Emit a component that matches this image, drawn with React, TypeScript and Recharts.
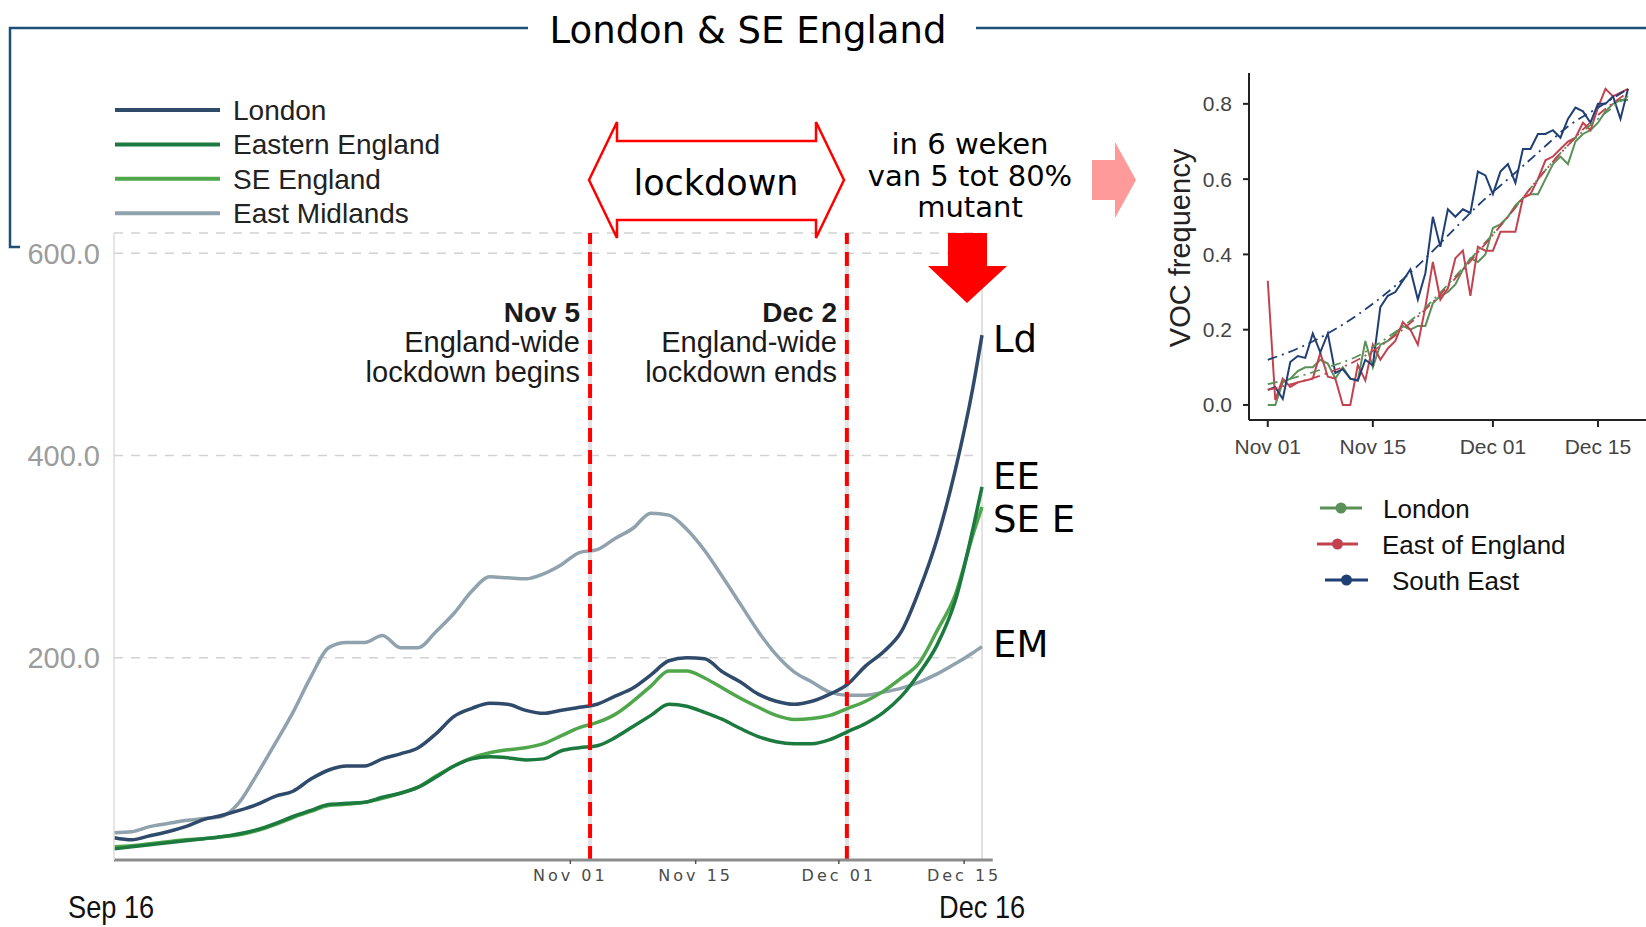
import { LineChart, Line, XAxis, YAxis, CartesianGrid, ReferenceLine } from 'recharts';

// left chart: cases per 100k, days counted from Nov 01
const caseDays = [
  -51, -49, -47, -45, -43, -41, -39, -37, -35, -33, -31, -29, -27, -25, -23, -21, -19,
  -17, -15, -13, -11, -9, -7, -5, -3, -1, 1, 3, 5, 7, 9, 11, 13, 15, 17, 19, 21, 23, 25,
  27, 29, 31, 33, 35, 37, 39, 41, 43, 45, 46,
];
const londonCases = [
  22, 20, 24, 28, 33, 40, 44, 49, 55, 63, 68, 80, 89, 93, 93, 100, 105, 111, 125, 142,
  150, 155, 154, 148, 145, 148, 151, 154, 162, 170, 183, 197, 200, 199, 186, 176, 164,
  157, 154, 157, 164, 174, 192, 206, 226, 267, 318, 385, 468, 519,
];
const easternCases = [
  11, 13, 15, 17, 19, 21, 23, 26, 30, 36, 43, 49, 55, 56, 57, 62, 66, 72, 82, 93, 100,
  102, 101, 99, 100, 108, 111, 113, 121, 132, 143, 154, 152, 146, 139, 130, 122, 117,
  115, 115, 119, 127, 135, 146, 162, 185, 213, 256, 328, 369,
];
const seCases = [
  13, 14, 16, 18, 20, 21, 23, 25, 29, 35, 42, 48, 54, 55, 57, 61, 66, 72, 83, 93, 101,
  106, 109, 111, 115, 123, 131, 136, 144, 157, 172, 187, 187, 180, 170, 160, 151, 143,
  139, 140, 143, 150, 157, 167, 180, 195, 227, 262, 322, 349,
];
const midlandsCases = [
  27, 28, 33, 36, 39, 41, 43, 57, 85, 115, 146, 181, 210, 215, 215, 222, 210, 210, 226,
  244, 266, 280, 279, 278, 283, 292, 304, 307, 318, 328, 343, 341, 327, 306, 280, 253,
  226, 203, 186, 176, 166, 163, 163, 166, 170, 176, 184, 194, 205, 211,
];
const caseTickDays = [0, 14, 30, 44];
const caseTickLabels = ['Nov 01', 'Nov 15', 'Dec 01', 'Dec 15'];
const caseYTicks = [200, 400, 600];

// right chart: VOC frequency per day from Nov 01
const vocDays = [
  0, 1, 2, 3, 4, 5, 6, 7, 8, 9, 10, 11, 12, 13, 14, 15, 16, 17, 18, 19, 20, 21, 22, 23,
  24, 25, 26, 27, 28, 29, 30, 31, 32, 33, 34, 35, 36, 37, 38, 39, 40, 41, 42, 43, 44, 45,
  46, 47, 48,
];
const vocLondon = [
  0, 0, 0.06, 0.07, 0.09, 0.1, 0.1, 0.12, 0.11, 0.07, 0.1, 0.07, 0.065, 0.17, 0.1, 0.16,
  0.17, 0.19, 0.21, 0.2, 0.21, 0.21, 0.27, 0.29, 0.3, 0.32, 0.36, 0.39, 0.38, 0.4, 0.47,
  0.48, 0.5, 0.53, 0.55, 0.56, 0.56, 0.6, 0.64, 0.66, 0.64, 0.7, 0.72, 0.73, 0.75, 0.78,
  0.8, 0.81, 0.81,
];
const vocEast = [
  0.33, 0.013, 0.07, 0.048, 0.06, 0.065, 0.07, 0.138, 0.075, 0.07, 0, 0, 0.106, 0.065,
  0.16, 0.12, 0.15, 0.17, 0.22, 0.2, 0.16, 0.26, 0.38, 0.28, 0.31, 0.39, 0.41, 0.29, 0.42,
  0.41, 0.41, 0.46, 0.46, 0.46, 0.55, 0.56, 0.6, 0.65, 0.66, 0.68, 0.7, 0.71, 0.75, 0.73,
  0.79, 0.84, 0.82, 0.83, 0.84,
];
const vocSouthEast = [
  0.04, 0.047, 0.016, 0.114, 0.13, 0.125, 0.19, 0.14, 0.19, 0.085, 0.095, 0.07, 0.065,
  0.12, 0.105, 0.26, 0.29, 0.3, 0.33, 0.36, 0.28, 0.35, 0.5, 0.42, 0.52, 0.5, 0.52, 0.51,
  0.62, 0.61, 0.56, 0.62, 0.64, 0.59, 0.68, 0.68, 0.72, 0.72, 0.73, 0.71, 0.76, 0.79, 0.78,
  0.75, 0.8, 0.8, 0.82, 0.76, 0.84,
];
const fitDays = [0, 4, 8, 12, 16, 20, 24, 28, 32, 36, 40, 44, 48];
const fitLondon = [0.055, 0.075, 0.1, 0.13, 0.18, 0.24, 0.32, 0.41, 0.5, 0.6, 0.69, 0.76, 0.82];
const fitEast = [0.04, 0.06, 0.085, 0.12, 0.17, 0.235, 0.315, 0.405, 0.5, 0.6, 0.69, 0.77, 0.83];
const fitSouthEast = [0.12, 0.15, 0.19, 0.24, 0.3, 0.37, 0.45, 0.53, 0.6, 0.67, 0.74, 0.79, 0.84];
const vocYTicks = [0, 0.2, 0.4, 0.6, 0.8];

const caseData = caseDays.map((day, i) => ({
  day,
  london: londonCases[i],
  eastern: easternCases[i],
  se: seCases[i],
  midlands: midlandsCases[i],
}));

const vocData = vocDays.map((day, i) => {
  const f = fitDays.indexOf(day);
  return {
    day,
    london: vocLondon[i],
    east: vocEast[i],
    southEast: vocSouthEast[i],
    fitLondon: f >= 0 ? fitLondon[f] : null,
    fitEast: f >= 0 ? fitEast[f] : null,
    fitSouthEast: f >= 0 ? fitSouthEast[f] : null,
  };
});

const caseSeries = [
  { key: 'midlands', name: 'East Midlands', color: '#8fa2ad', tag: 'EM', tagY: 657 },
  { key: 'se', name: 'SE England', color: '#4fa64b', tag: 'SE E', tagY: 532 },
  { key: 'eastern', name: 'Eastern England', color: '#1c7a3f', tag: 'EE', tagY: 489 },
  { key: 'london', name: 'London', color: '#2f4a6a', tag: 'Ld', tagY: 352 },
];
const legendOrder = ['london', 'eastern', 'se', 'midlands'];

const vocSeries = [
  { key: 'london', fit: 'fitLondon', name: 'London', color: '#5b9058' },
  { key: 'east', fit: 'fitEast', name: 'East of England', color: '#c2434f' },
  { key: 'southEast', fit: 'fitSouthEast', name: 'South East', color: '#1f3f75' },
];

const SANS = '"Liberation Sans", Arial, sans-serif';
const DEJAVU = '"DejaVu Sans", Verdana, sans-serif';
const FRAME = '#1d4f78';

function CasesChart() {
  return (
    <LineChart
      width={1040}
      height={927}
      data={caseData}
      margin={{ top: 233, right: 58, bottom: 27, left: 0 }}
    >
      <CartesianGrid vertical={false} stroke="#d2d2d2" strokeDasharray="9 8" strokeWidth={1.5} />
      <XAxis
        dataKey="day"
        type="number"
        domain={[-51, 46]}
        ticks={caseTickDays}
        interval={0}
        tickFormatter={(v) => caseTickLabels[caseTickDays.indexOf(v)]}
        axisLine={{ stroke: '#8c8c8c', strokeWidth: 3 }}
        tickLine={{ stroke: '#555', strokeWidth: 1.5 }}
        tickSize={4}
        tickMargin={6}
        height={40}
        tick={{ fill: '#4a4a4a', fontSize: 16, fontFamily: DEJAVU, letterSpacing: 3 }}
      />
      <YAxis
        domain={[0, 620]}
        ticks={caseYTicks}
        width={114}
        tickFormatter={(v) => Number(v).toFixed(1)}
        axisLine={{ stroke: '#dcdcdc', strokeWidth: 1.5 }}
        tickLine={false}
        tickSize={0}
        tickMargin={14}
        tick={{ fill: '#9c9c9c', fontSize: 29, fontFamily: SANS }}
      />
      <ReferenceLine x={2.2} stroke="#e2e2e2" strokeWidth={4} />
      <ReferenceLine x={30.9} stroke="#e2e2e2" strokeWidth={4} />
      <ReferenceLine x={46} stroke="#e2e2e2" strokeWidth={2} />
      <ReferenceLine
        segment={[{ x: 46, y: 0 }, { x: 47.2, y: 0 }]}
        ifOverflow="visible"
        stroke="#8c8c8c"
        strokeWidth={3}
      />
      {caseSeries.map((s) => (
        <Line
          key={s.key}
          dataKey={s.key}
          type="monotone"
          stroke={s.color}
          strokeWidth={3.5}
          dot={false}
          isAnimationActive={false}
        />
      ))}
      <ReferenceLine x={2.2} stroke="#ff0000" strokeWidth={4} strokeDasharray="14 8" />
      <ReferenceLine x={30.9} stroke="#ff0000" strokeWidth={4} strokeDasharray="14 8" />
    </LineChart>
  );
}

function VocChart() {
  return (
    <LineChart
      width={546}
      height={460}
      data={vocData}
      margin={{ top: 33, right: 0, bottom: 20, left: 0 }}
    >
      <XAxis
        dataKey="day"
        type="number"
        domain={[-2.5, 50.4]}
        ticks={caseTickDays}
        interval={0}
        tickFormatter={(v) => caseTickLabels[caseTickDays.indexOf(v)]}
        axisLine={{ stroke: '#222', strokeWidth: 2 }}
        tickLine={{ stroke: '#222', strokeWidth: 2 }}
        tickSize={7}
        tickMargin={12}
        height={60}
        tick={{ fill: '#444', fontSize: 21, fontFamily: SANS }}
      />
      <YAxis
        domain={[-0.04, 0.882]}
        ticks={vocYTicks}
        width={149}
        tickFormatter={(v) => Number(v).toFixed(1)}
        axisLine={{ stroke: '#222', strokeWidth: 2 }}
        tickLine={{ stroke: '#222', strokeWidth: 2 }}
        tickSize={6}
        tickMargin={11}
        tick={{ fill: '#444', fontSize: 21, fontFamily: SANS }}
      />
      {vocSeries.map((s) => (
        <Line
          key={s.key}
          dataKey={s.key}
          type="linear"
          stroke={s.color}
          strokeWidth={2}
          dot={false}
          isAnimationActive={false}
        />
      ))}
      {vocSeries.map((s) => (
        <Line
          key={s.fit}
          dataKey={s.fit}
          type="monotone"
          connectNulls
          stroke={s.color}
          strokeWidth={1.8}
          strokeDasharray="10 5 2 5"
          dot={false}
          isAnimationActive={false}
        />
      ))}
    </LineChart>
  );
}

function Overlay() {
  const legendSeries = legendOrder.map((k) => caseSeries.find((s) => s.key === k)!);
  const vocLegendY = [518, 554, 590];
  const vocLegendX = [
    { x1: 1320, x2: 1362, tx: 1383 },
    { x1: 1317, x2: 1358, tx: 1382 },
    { x1: 1325, x2: 1368, tx: 1392 },
  ];
  return (
    <svg
      width={1646}
      height={927}
      style={{ position: 'absolute', left: 0, top: 0, pointerEvents: 'none' }}
    >
      {/* frame around the title */}
      <polyline
        points="20,247 10,247 10,28 528,28"
        fill="none"
        stroke={FRAME}
        strokeWidth={2.5}
      />
      <line x1={976} y1={28} x2={1646} y2={28} stroke={FRAME} strokeWidth={2.5} />
      <text x={748} y={43} textAnchor="middle" fontFamily={DEJAVU} fontSize={37} fill="#000">
        London &amp; SE England
      </text>

      {/* left legend */}
      {legendSeries.map((s, i) => (
        <g key={s.key}>
          <line x1={115} x2={220} y1={110 + i * 34.4} y2={110 + i * 34.4} stroke={s.color} strokeWidth={4} />
          <text x={233} y={120 + i * 34.4} fontFamily={SANS} fontSize={28} fill="#222">
            {s.name}
          </text>
        </g>
      ))}

      {/* lockdown arrow */}
      <polygon
        points="589,180 617,122 617,141 816,141 816,122 844,180 816,238 816,220 617,220 617,238"
        fill="#fff"
        stroke="#ff0000"
        strokeWidth={2.5}
      />
      <text x={716} y={195} textAnchor="middle" fontFamily={DEJAVU} fontSize={35} fill="#000">
        lockdown
      </text>

      <g fontFamily={DEJAVU} fontSize={29} fill="#000" textAnchor="middle">
        <text x={970} y={154}>in 6 weken</text>
        <text x={970} y={186}>van 5 tot 80%</text>
        <text x={970} y={217}>mutant</text>
      </g>
      <polygon points="948,233 987,233 987,266 1007,266 967,303 928,266 948,266" fill="#ff0000" />
      <polygon points="1092,160 1115,160 1115,142 1136,180 1115,218 1115,200 1092,200" fill="#ff9a9a" />

      {/* lockdown annotations */}
      <g fontFamily={SANS} fontSize={29} fill="#1a1a1a" textAnchor="end">
        <text x={580} y={322} fontWeight="bold" fontSize={28}>Nov 5</text>
        <text x={580} y={352}>England-wide</text>
        <text x={580} y={382}>lockdown begins</text>
        <text x={837} y={322} fontWeight="bold" fontSize={28}>Dec 2</text>
        <text x={837} y={352}>England-wide</text>
        <text x={837} y={382}>lockdown ends</text>
      </g>

      {/* series tags */}
      {caseSeries.map((s) => (
        <text key={s.key} x={993} y={s.tagY} fontFamily={DEJAVU} fontSize={37} fill="#000">
          {s.tag}
        </text>
      ))}

      <g fontFamily={SANS} fontSize={32} fill="#111">
        <text transform="translate(68,918) scale(0.85,1)">Sep 16</text>
        <text transform="translate(939,918) scale(0.85,1)">Dec 16</text>
      </g>

      {/* right chart label and legend */}
      <text
        transform="translate(1190,248) rotate(-90)"
        textAnchor="middle"
        fontFamily={SANS}
        fontSize={29}
        fill="#222"
      >
        VOC frequency
      </text>
      {vocSeries.map((s, i) => (
        <g key={s.key}>
          <line
            x1={vocLegendX[i].x1}
            x2={vocLegendX[i].x2}
            y1={vocLegendY[i] - 10}
            y2={vocLegendY[i] - 10}
            stroke={s.color}
            strokeWidth={3}
          />
          <circle cx={(vocLegendX[i].x1 + vocLegendX[i].x2) / 2} cy={vocLegendY[i] - 10} r={5.5} fill={s.color} />
          <text x={vocLegendX[i].tx} y={vocLegendY[i]} fontFamily={SANS} fontSize={26} fill="#111">
            {s.name}
          </text>
        </g>
      ))}
    </svg>
  );
}

export default function App() {
  return (
    <div
      style={{
        position: 'absolute',
        left: 0,
        top: 0,
        width: 1646,
        height: 927,
        background: '#fff',
        overflow: 'hidden',
        fontFamily: SANS,
      }}
    >
      <div style={{ position: 'absolute', left: 0, top: 0 }}>
        <CasesChart />
      </div>
      <div style={{ position: 'absolute', left: 1100, top: 40 }}>
        <VocChart />
      </div>
      <Overlay />
    </div>
  );
}
